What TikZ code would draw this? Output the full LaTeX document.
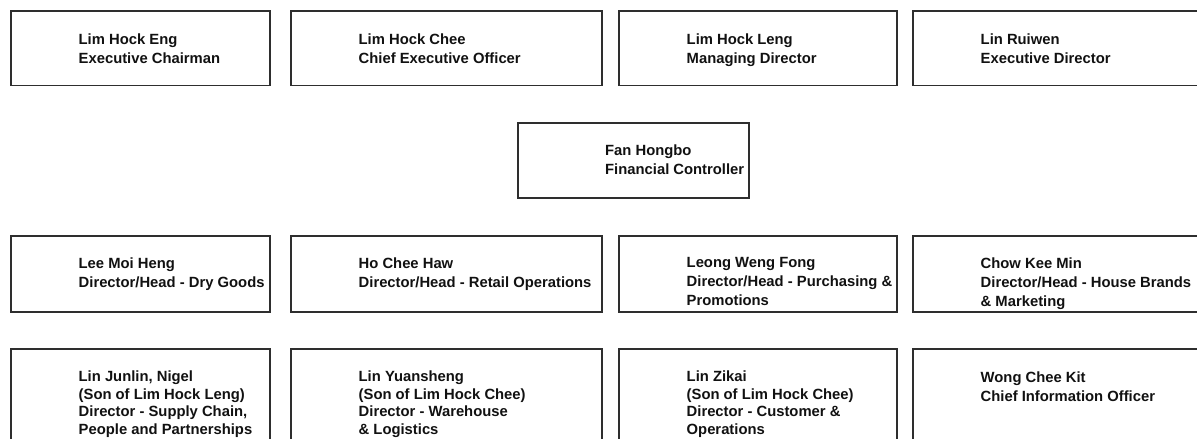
\documentclass[tikz,border=0pt]{standalone}
\usepackage{fontspec}
\setmainfont{Liberation Sans}
\definecolor{boxgray}{HTML}{2E2E2E}
\definecolor{textblack}{HTML}{111111}
\begin{document}
\begin{tikzpicture}[x=1pt,y=-1pt,
  box/.style={draw=boxgray, line width=1.8pt, rectangle, inner sep=0pt, anchor=north west},
  txt/.style={anchor=north west, align=left, inner sep=0pt,
    font=\bfseries\fontsize{14.8}{18.8}\selectfont, text=textblack},
  txttight/.style={txt, font=\bfseries\fontsize{14.8}{17.8}\selectfont}]
\useasboundingbox (0,0) rectangle (1197,439);
\clip (0,0) rectangle (1197,439);
% row 1
\node[box, minimum width=259pt, minimum height=74.5pt] (b11) at (10,10) {};
\node[box, minimum width=311pt, minimum height=74.5pt] (b12) at (290,10) {};
\node[box, minimum width=278pt, minimum height=74.5pt] (b13) at (618,10) {};
\node[box, minimum width=300pt, minimum height=74.5pt] (b14) at (912,10) {};
\node[txt] (t11) at (78.5,33.5) {Lim Hock Eng\\Executive Chairman};
\node[txt] (t12) at (358.5,33.5) {Lim Hock Chee\\Chief Executive Officer};
\node[txt] (t13) at (686.5,33.5) {Lim Hock Leng\\Managing Director};
\node[txt] (t14) at (980.5,33.5) {Lin Ruiwen\\Executive Director};
% row 2
\node[box, minimum width=231pt, minimum height=75pt] (b2) at (517,122) {};
\node[txt] (t2) at (605,145) {Fan Hongbo\\Financial Controller};
% row 3
\node[box, minimum width=259pt, minimum height=76pt] (b31) at (10,235) {};
\node[box, minimum width=311pt, minimum height=76pt] (b32) at (290,235) {};
\node[box, minimum width=278pt, minimum height=76pt] (b33) at (618,235) {};
\node[box, minimum width=300pt, minimum height=76pt] (b34) at (912,235) {};
\node[txt] (t31) at (78.5,257.5) {Lee Moi Heng\\Director/Head - Dry Goods};
\node[txt] (t32) at (358.5,257.5) {Ho Chee Haw\\Director/Head - Retail Operations};
\node[txt] (t33) at (686.5,257.5) {Leong Weng Fong\\Director/Head - Purchasing \&\\Promotions};
\node[txt] (t34) at (980.5,257.5) {Chow Kee Min\\Director/Head - House Brands\\\& Marketing};
% row 4
\node[box, minimum width=259pt, minimum height=110pt] (b41) at (10,348) {};
\node[box, minimum width=311pt, minimum height=110pt] (b42) at (290,348) {};
\node[box, minimum width=278pt, minimum height=110pt] (b43) at (618,348) {};
\node[box, minimum width=300pt, minimum height=110pt] (b44) at (912,348) {};
\node[txttight] (t41) at (78.5,370.3) {Lin Junlin, Nigel\\(Son of Lim Hock Leng)\\Director - Supply Chain,\\People and Partnerships};
\node[txttight] (t42) at (358.5,370.3) {Lin Yuansheng\\(Son of Lim Hock Chee)\\Director - Warehouse\\\& Logistics};
\node[txttight] (t43) at (686.5,370.3) {Lin Zikai\\(Son of Lim Hock Chee)\\Director - Customer \&\\Operations};
\node[txt] (t44) at (980.5,371.3) {Wong Chee Kit\\Chief Information Officer};
\end{tikzpicture}
\end{document}
